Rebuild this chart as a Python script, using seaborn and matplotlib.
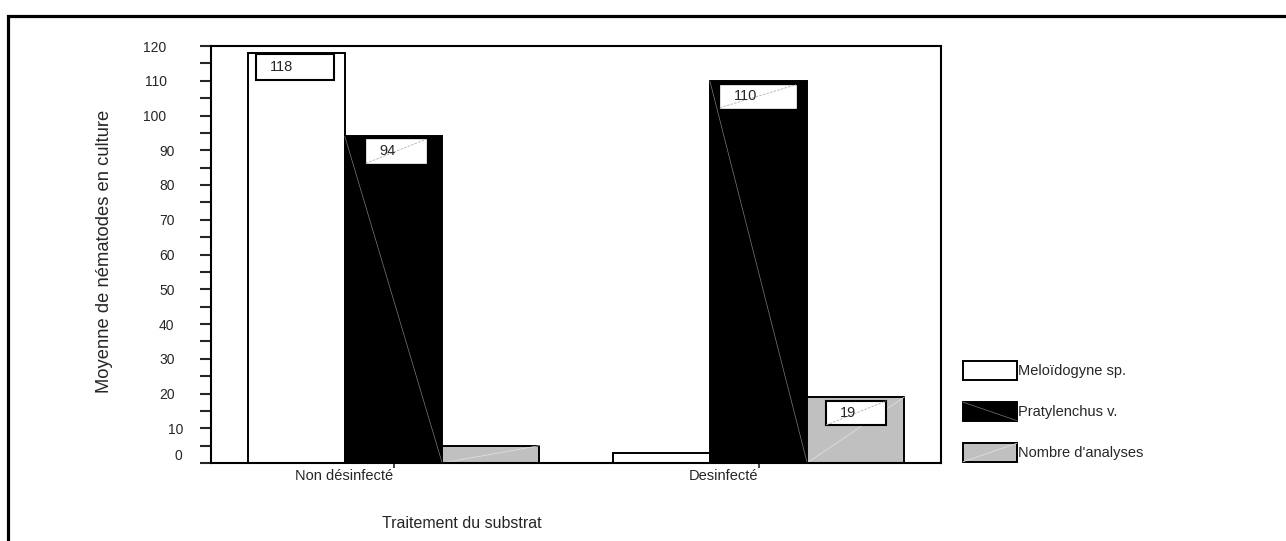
import numpy as np
import pandas as pd
import matplotlib
matplotlib.use("Agg")
import matplotlib.pyplot as plt
import matplotlib.transforms as mtransforms
from matplotlib.patches import Rectangle, Patch
from matplotlib.lines import Line2D
from matplotlib.legend_handler import HandlerBase
import seaborn as sns

# ---- data ----
categories = ["Non désinfecté", "Desinfecté"]
series = ["Meloïdogyne sp.", "Pratylenchus v.", "Nombre d'analyses"]
meloidogyne = [118, 3]
pratylenchus = [94, 110]
analyses = [5, 19]
y_ticks = list(range(0, 121, 10))

# which bars carry a value box: (series index, category index)
labelled = [(0, 0), (1, 0), (1, 1), (2, 1)]

# ---- style ----
colors = ["white", "black", "#c0c0c0"]

sns.set_style("white")
plt.rcParams["font.family"] = ["Liberation Sans", "DejaVu Sans"]

W, H, DPI = 1286, 541, 100
fig = plt.figure(figsize=(W / DPI, H / DPI), dpi=DPI)

# outer frame around the whole graphic
frame = Rectangle((8 / W, -0.1), 1.2, 1.1 - 16 / H, transform=fig.transFigure,
                  fill=False, edgecolor="black", linewidth=2.3, clip_on=False)
fig.patches.append(frame)

ax_left, ax_right, ax_top, ax_bottom = 211, 941, 46, 463
ax = fig.add_axes([ax_left / W, 1 - ax_bottom / H,
                   (ax_right - ax_left) / W, (ax_bottom - ax_top) / H])

df = pd.DataFrame({
    "Traitement": categories * 3,
    "Série": [s for s in series for _ in categories],
    "Valeur": meloidogyne + pratylenchus + analyses,
})

sns.barplot(data=df, x="Traitement", y="Valeur", hue="Série", order=categories,
            hue_order=series, palette=colors, saturation=1, width=0.8,
            edgecolor="black", linewidth=1.4, errorbar=None, legend=False, ax=ax)

ax.set_xlim(-0.5, 1.5)
ax.set_ylim(0, 120)
ax.set_xlabel("")
ax.set_ylabel("")

for sp in ax.spines.values():
    sp.set_visible(True)
    sp.set_linewidth(1.5)
    sp.set_color("black")

# y axis: labelled ticks every 10, extra ticks every 5
ax.set_yticks(y_ticks)
ax.set_yticks(np.arange(5, 120, 10), minor=True)
ax.tick_params(axis="y", which="both", direction="out", length=8, width=1.5,
               left=True, labelsize=10, pad=24)
ax.tick_params(axis="x", direction="out", length=3.5, width=1.2, bottom=True,
               labelsize=10.5, pad=1)
for lab in ax.get_xticklabels():
    lab.set_ha("right")

# y tick labels are not flush: shift them (pixels, right / up)
def label_shift(v):
    if v == 0:
        return 16, 8
    if v == 10:
        return 17, 0
    if v < 100:
        return 8, 0
    return 0, 0

for v, lab in zip(y_ticks, ax.get_yticklabels()):
    dx, dy = label_shift(v)
    if dx or dy:
        lab.set_transform(lab.get_transform() +
                          mtransforms.ScaledTranslation(dx / DPI, dy / DPI, fig.dpi_scale_trans))

# fine diagonal streaks across the dark and grey bars
for bar in ax.containers[1]:
    x0, h, w = bar.get_x(), bar.get_height(), bar.get_width()
    ax.plot([x0, x0 + w], [h, 0], color="#7a7a7a", lw=0.5, zorder=bar.get_zorder() + 0.1)
for bar in ax.containers[2]:
    x0, h, w = bar.get_x(), bar.get_height(), bar.get_width()
    ax.plot([x0, x0 + w], [0, h], color="#e4e4e4", lw=0.5, zorder=bar.get_zorder() + 0.1)

# value boxes: pixel offsets from the bar's top-left corner, box size, border
box_layout = {
    (0, 0): dict(dx=8, dy=1, w=78, h=26, border=True, diag=False),
    (1, 0): dict(dx=21, dy=3, w=60, h=24, border=False, diag=True),
    (1, 1): dict(dx=10, dy=4, w=76, h=23, border=False, diag=True),
    (2, 1): dict(dx=19, dy=4, w=60, h=24, border=True, diag=True),
}
inv = ax.transData.inverted()
for (si, ci) in labelled:
    bar = ax.containers[si][ci]
    val = bar.get_height()
    lay = box_layout[(si, ci)]
    px, py = ax.transData.transform((bar.get_x(), val))
    left, top = px + lay["dx"], py - lay["dy"]
    (x0, y0), (x1, y1) = inv.transform([(left, top - lay["h"]), (left + lay["w"], top)])
    ax.add_patch(Rectangle((x0, y0), x1 - x0, y1 - y0, facecolor="white",
                           edgecolor="black" if lay["border"] else "white",
                           linewidth=1.5 if lay["border"] else 0.5, zorder=5))
    if lay["diag"]:
        ax.plot([x0, x1], [y0, y1], color="#b0b0b0", lw=0.6, ls=(0, (3, 1.5)), zorder=5.5)
    tx, _ = inv.transform((left + 14, 0))
    ax.text(tx, (y0 + y1) / 2, f"{val:g}", ha="left", va="center", fontsize=10.5, zorder=6)


class SwatchHandler(HandlerBase):
    def __init__(self, diag=None, diag_color=None):
        super().__init__()
        self.diag = diag
        self.diag_color = diag_color

    def create_artists(self, legend, orig_handle, xdescent, ydescent, width,
                       height, fontsize, trans):
        x0, y0 = -xdescent, -ydescent
        rect = Rectangle((x0, y0), width, height, facecolor=orig_handle.get_facecolor(),
                         edgecolor="black", linewidth=1.4, transform=trans)
        arts = [rect]
        if self.diag == "down":
            arts.append(Line2D([x0, x0 + width], [y0 + height, y0], color=self.diag_color,
                               lw=0.5, transform=trans))
        elif self.diag == "up":
            arts.append(Line2D([x0, x0 + width], [y0, y0 + height], color=self.diag_color,
                               lw=0.5, transform=trans))
        return arts


handles = [Patch(facecolor=c, edgecolor="black") for c in colors]
fs_leg = 10.5
px_per_em = fs_leg * DPI / 72
fig.legend(handles, series, loc="upper left",
           bbox_to_anchor=(963 / W, 1 - 361 / H), bbox_transform=fig.transFigure,
           frameon=False, fontsize=fs_leg, borderpad=0, borderaxespad=0,
           handlelength=54 / px_per_em, handleheight=23 / px_per_em,
           handletextpad=0.1, labelspacing=1.55,
           handler_map={handles[0]: SwatchHandler(),
                        handles[1]: SwatchHandler("down", "#7a7a7a"),
                        handles[2]: SwatchHandler("up", "#e4e4e4")})

fig.text(105 / W, 1 - 251 / H, "Moyenne de nématodes en culture", rotation=90,
         ha="center", va="center", fontsize=13.2)
fig.text(462 / W, 1 - 523 / H, "Traitement du substrat", ha="center", va="center",
         fontsize=11.5)

fig.savefig("out.png", dpi=DPI, facecolor="white")
